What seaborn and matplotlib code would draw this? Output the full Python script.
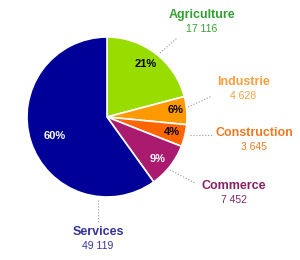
import matplotlib
matplotlib.use("Agg")
import matplotlib.pyplot as plt
import seaborn as sns

categories = ["Agriculture", "Industrie", "Construction", "Commerce", "Services"]
values = [17116, 4628, 3645, 7452, 49119]
value_labels = ["17 116", "4 628", "3 645", "7 452", "49 119"]
slice_colors = ["#99dd00", "#ff9900", "#ff6600", "#aa1a6e", "#000099"]
label_colors = ["#33a033", "#f7a040", "#ee7a22", "#882266", "#333399"]
pct_colors = ["black", "black", "black", "white", "white"]

sns.set_theme(style="white")
plt.rcParams['font.family'] = ['Liberation Sans', 'DejaVu Sans']

fig = plt.figure(figsize=(3.0, 2.6), dpi=100)
ax = fig.add_axes([0, 0, 1, 1])

H = 260
total = sum(values)
wedges, texts = ax.pie(values, colors=slice_colors, startangle=90, counterclock=False,
                       center=(107, H - 117), radius=80, frame=True,
                       wedgeprops=dict(edgecolor="white", linewidth=1.2))
ax.set_xlim(0, 300)
ax.set_ylim(0, 260)
ax.axis("off")

pct_pos = [(146, 64), (176, 110), (172, 132), (158, 159), (55, 136)]
for v, (x, y), c in zip(values, pct_pos, pct_colors):
    ax.text(x, H - y, f"{round(100 * v / total)}%", color=c, fontsize=8,
            fontweight="bold", ha="center", va="center")

title_pos = [(202, 15), (243, 82), (254, 133), (234, 186), (98, 232)]
for cat, vl, (x, y), c in zip(categories, value_labels, title_pos, label_colors):
    ax.text(x, H - y, cat, color=c, fontsize=9, fontweight="bold", ha="center", va="center")
    ax.text(x, H - y - 14, vl, color=c, fontsize=7.5, ha="center", va="center")

leaders = [((160, 53), (177, 38)), ((188, 107), (212, 96)), ((190, 135), (212, 135)),
           ((170, 170), (195, 183)), ((98, 200), (98, 222))]
for (x0, y0), (x1, y1) in leaders:
    ax.plot([x0, x1], [H - y0, H - y1], color="#999999", linestyle=":", linewidth=0.8)

fig.savefig("out.png", dpi=100, facecolor="white")
